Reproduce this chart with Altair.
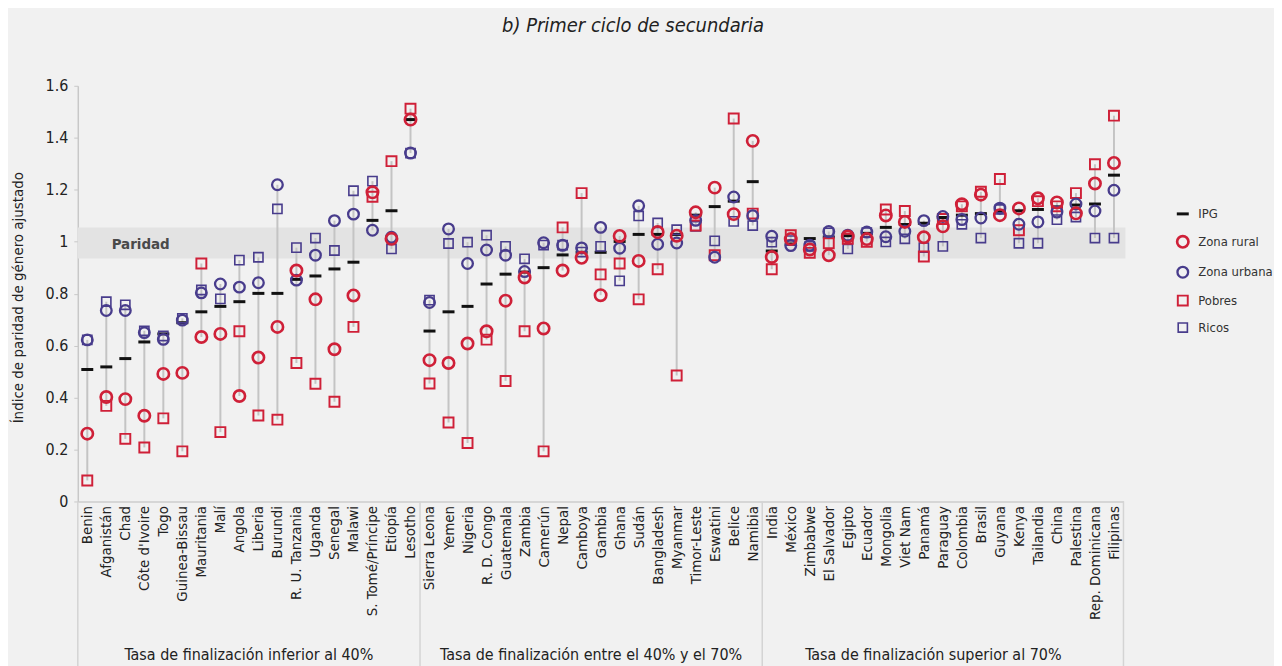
import altair as alt
import pandas as pd

countries = [
    "Benin", "Afganistán", "Chad", "Côte d'Ivoire", "Togo", "Guinea-Bissau", "Mauritania",
    "Malí", "Angola", "Liberia", "Burundi", "R. U. Tanzania", "Uganda", "Senegal", "Malawi",
    "S. Tomé/Príncipe", "Etiopía", "Lesotho",
    "Sierra Leona", "Yemen", "Nigeria", "R. D. Congo", "Guatemala", "Zambia", "Camerún",
    "Nepal", "Camboya", "Gambia", "Ghana", "Sudán", "Bangladesh", "Myanmar", "Timor-Leste",
    "Eswatini", "Belice", "Namibia",
    "India", "México", "Zimbabwe", "El Salvador", "Egipto", "Ecuador", "Mongolia", "Viet Nam",
    "Panamá", "Paraguay", "Colombia", "Brasil", "Guyana", "Kenya", "Tailandia", "China",
    "Palestina", "Rep. Dominicana", "Filipinas",
]

ipg = [
    0.508, 0.518, 0.550, 0.614, 0.645, 0.688, 0.730, 0.751, 0.769, 0.801, 0.801, 0.855, 0.868,
    0.895, 0.921, 1.082, 1.119, 1.470,
    0.656, 0.730, 0.751, 0.837, 0.875, 0.883, 0.900, 0.949, 0.959, 0.959, 1.001, 1.028, 1.028,
    1.028, 1.102, 1.135, 1.156, 1.231,
    0.964, 0.991, 1.012, 1.018, 1.023, 1.032, 1.055, 1.066, 1.071, 1.093, 1.102, 1.108, 1.118,
    1.119, 1.124, 1.134, 1.141, 1.145, 1.256,
]
rural = [
    0.261, 0.402, 0.394, 0.330, 0.491, 0.495, 0.633, 0.645, 0.406, 0.554, 0.672, 0.889, 0.778,
    0.586, 0.793, 1.190, 1.011, 1.470,
    0.544, 0.533, 0.608, 0.655, 0.773, 0.862, 0.666, 0.889, 0.938, 0.794, 1.022, 0.926, 1.037,
    1.023, 1.113, 1.208, 1.106, 1.388,
    0.941, 1.010, 0.970, 0.948, 1.020, 1.010, 1.101, 1.076, 1.017, 1.059, 1.144, 1.181, 1.102,
    1.128, 1.167, 1.151, 1.109, 1.224, 1.303,
]
urbana = [
    0.622, 0.735, 0.735, 0.650, 0.624, 0.698, 0.803, 0.837, 0.825, 0.842, 1.219, 0.852, 0.948,
    1.081, 1.106, 1.044, 1.017, 1.341,
    0.766, 1.049, 0.916, 0.968, 0.948, 0.885, 0.996, 0.986, 0.976, 1.055, 0.975, 1.138, 0.990,
    0.995, 1.082, 0.940, 1.172, 1.100,
    1.021, 0.985, 0.986, 1.039, 1.025, 1.037, 1.019, 1.040, 1.081, 1.097, 1.085, 1.091, 1.129,
    1.067, 1.076, 1.114, 1.145, 1.118, 1.198,
]
pobres = [
    0.081, 0.368, 0.241, 0.208, 0.320, 0.193, 0.916, 0.267, 0.655, 0.331, 0.315, 0.533, 0.453,
    0.384, 0.672, 1.173, 1.310, 1.512,
    0.454, 0.304, 0.225, 0.623, 0.464, 0.655, 0.193, 1.055, 1.187, 0.874, 0.916, 0.778, 0.894,
    0.485, 1.062, 0.948, 1.474, 1.108,
    0.894, 1.025, 0.957, 0.994, 1.011, 1.000, 1.124, 1.118, 0.943, 1.087, 1.136, 1.192, 1.241,
    1.044, 1.156, 1.136, 1.187, 1.298, 1.485,
]
ricos = [
    0.622, 0.769, 0.757, 0.657, 0.637, 0.705, 0.814, 0.780, 0.929, 0.940, 1.126, 0.977, 1.014,
    0.966, 1.196, 1.233, 0.972, 1.341,
    0.775, 0.993, 0.998, 1.025, 0.982, 0.934, 0.987, 0.987, 0.960, 0.982, 0.849, 1.099, 1.072,
    1.046, 1.059, 1.003, 1.078, 1.062,
    0.998, 1.004, 0.982, 1.034, 0.972, 1.035, 0.999, 1.011, 0.977, 0.982, 1.067, 1.014, 1.124,
    0.994, 0.994, 1.085, 1.095, 1.014, 1.014,
]

group_labels = [
    "Tasa de finalización inferior al 40%",
    "Tasa de finalización entre el 40% y el 70%",
    "Tasa de finalización superior al 70%",
]
group_label_anchor = ["Angola", "Camboya", "Panamá"]
group_first = ["Benin", "Sierra Leona", "India"]

series_names = ["IPG", "Zona rural", "Zona urbana", "Pobres", "Ricos"]
parity_band = [0.935, 1.055]
y_ticks = [0, 0.2, 0.4, 0.6, 0.8, 1.0, 1.2, 1.4, 1.6]

RED = "#cf2038"
BLUE = "#483c8c"
BG = "#f1f1f1"
FONT = "Liberation Sans Narrow, DejaVu Sans Condensed, sans-serif"
W, H = 1049, 417

rows = []
for name, vals in [("IPG", ipg), ("Ricos", ricos), ("Pobres", pobres),
                   ("Zona urbana", urbana), ("Zona rural", rural)]:
    for c, v in zip(countries, vals):
        rows.append({"country": c, "series": name, "value": v})
df = pd.DataFrame(rows)

rng = pd.DataFrame({
    "country": countries,
    "lo": [min(a, b, c, d) for a, b, c, d in zip(rural, urbana, pobres, ricos)],
    "hi": [max(a, b, c, d) for a, b, c, d in zip(rural, urbana, pobres, ricos)],
})

xscale = alt.Scale(domain=countries, paddingInner=0, paddingOuter=0)
xaxis = alt.Axis(title=None, labelAngle=270, labelFont=FONT, labelFontSize=15,
                 labelColor="#222222", ticks=False, labelPadding=4, labelLimit=300,
                 domainColor="#cccccc", domainWidth=1.5)
yscale = alt.Scale(domain=[0, 1.6], nice=False, zero=True)
yaxis = alt.Axis(title="Índice de paridad de género ajustado", values=y_ticks, format=".1~f",
                 grid=False, labelFont=FONT, labelFontSize=16, labelColor="#222222",
                 tickSize=4, tickColor="#c8c8c8", domainColor="#c8c8c8", domainWidth=1.5,
                 labelPadding=6, titleFont=FONT, titleFontSize=15, titleFontWeight="normal",
                 titleColor="#222222", titleAngle=270, titleX=-60, titleY=212,
                 titleAlign="center", titleBaseline="middle")


def X(**kw):
    return alt.X("country:N", sort=countries, scale=xscale, axis=xaxis, **kw)


band = alt.Chart(pd.DataFrame({"lo": [parity_band[0]], "hi": [parity_band[1]]})).mark_rect(
    color="#e3e3e3").encode(
    x=alt.value(0), x2=alt.value(W + 2),
    y=alt.Y("lo:Q", scale=yscale, axis=yaxis), y2="hi:Q")

paridad = alt.Chart(pd.DataFrame({"value": [0.99], "t": ["Paridad"]})).mark_text(
    font=FONT, fontSize=15, fontWeight="bold", color="#4a4a4a", align="left",
    baseline="middle").encode(
    x=alt.value(34), y=alt.Y("value:Q", scale=yscale, axis=yaxis), text="t:N")

rules = alt.Chart(rng).mark_rule(color="#c4c4c4", strokeWidth=2).encode(
    x=X(), y=alt.Y("lo:Q", scale=yscale, axis=yaxis), y2="hi:Q")

points = alt.Chart(df).mark_point(filled=False, opacity=1).encode(
    x=X(),
    y=alt.Y("value:Q", scale=yscale, axis=yaxis),
    color=alt.Color("series:N", scale=alt.Scale(domain=series_names,
                                                range=["#111111", RED, BLUE, RED, BLUE]),
                    legend=alt.Legend(title=None, orient="none", legendX=1101, legendY=121,
                                      labelFont=FONT, labelFontSize=13, labelColor="#333333",
                                      labelOffset=8, rowPadding=9, padding=0,
                                      symbolSize=40)),
    shape=alt.Shape("series:N", scale=alt.Scale(domain=series_names,
                                                range=["M-1,0L1,0", "circle", "circle",
                                                       "square", "square"])),
    size=alt.Size("series:N", scale=alt.Scale(domain=series_names,
                                              range=[144, 85, 85, 80, 45]),
                  legend=None),
    strokeWidth=alt.StrokeWidth("series:N", scale=alt.Scale(domain=series_names,
                                                            range=[3, 1.6, 1.6, 1.7, 1.6])),
)

seps = alt.Chart(pd.DataFrame({"country": group_first})).mark_rule(
    color="#d4d4d4", strokeWidth=1.5).encode(
    x=X(bandPosition=0), y=alt.value(H), y2=alt.value(H + 170))
right_sep = alt.Chart(pd.DataFrame({"country": ["Filipinas"]})).mark_rule(
    color="#d4d4d4", strokeWidth=1.5).encode(
    x=X(bandPosition=1), y=alt.value(H), y2=alt.value(H + 170))

glabels = alt.Chart(pd.DataFrame({"country": group_label_anchor, "label": group_labels})).mark_text(
    font=FONT, fontSize=16, color="#222222", align="center", baseline="middle").encode(
    x=X(bandPosition=1), y=alt.value(H + 154), text="label:N")

title = alt.Chart(pd.DataFrame({"t": ["b) Primer ciclo de secundaria"]})).mark_text(
    font=FONT, fontSize=20, fontStyle="italic", color="#222222", align="center",
    baseline="middle").encode(x=alt.value(557), y=alt.value(-60), text="t:N")

chart = alt.layer(band, paridad, rules, points, seps, right_sep, glabels, title).properties(
    width=W, height=H,
    autosize=alt.AutoSizeParams(type="none"),
    padding={"left": 70, "top": 77, "right": 151, "bottom": 164},
    background=BG,
).configure_view(stroke=None)

chart.save("out.html", embed_options={"renderer": "svg", "actions": False})
